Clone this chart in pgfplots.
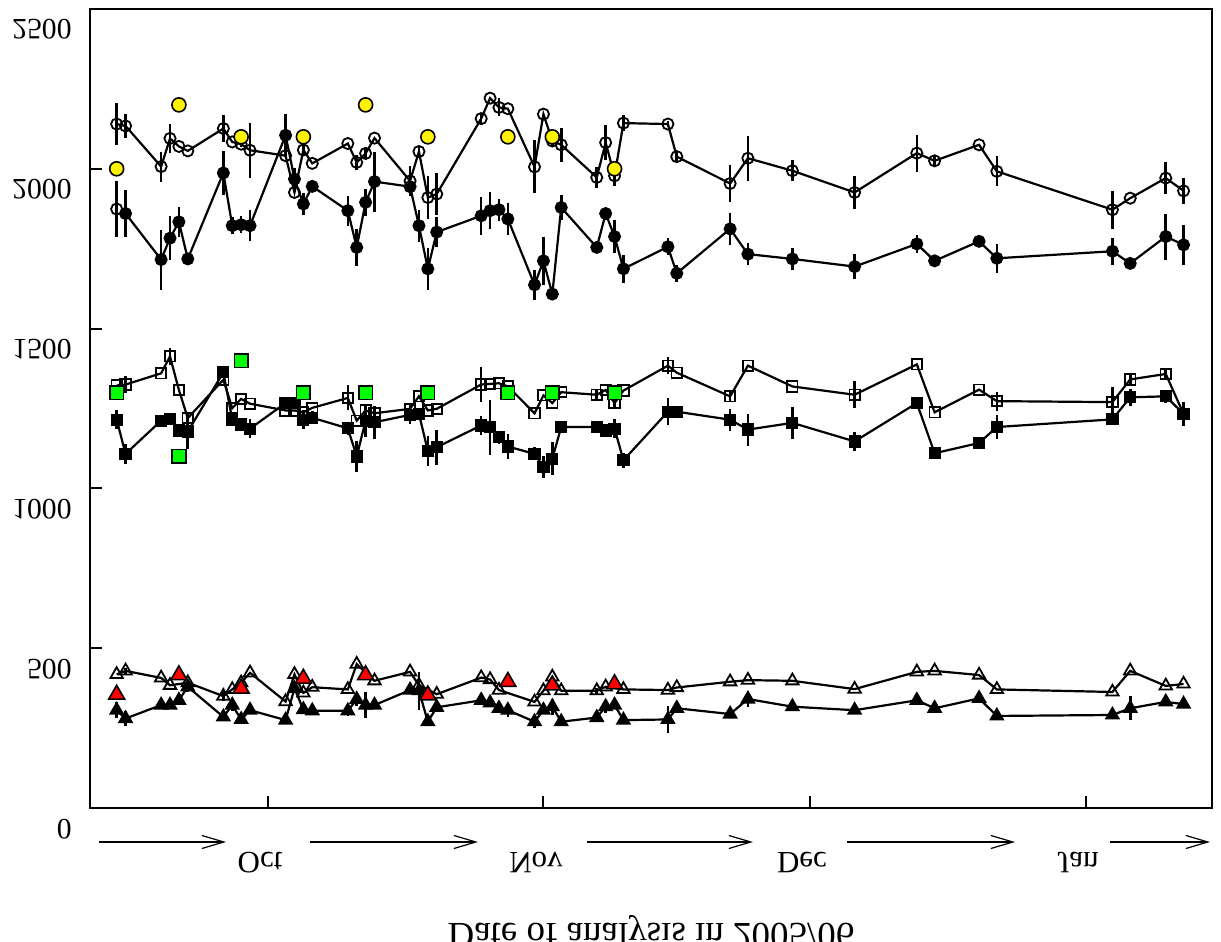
\documentclass[border=0pt]{standalone}
\usepackage{fontspec}
\setmainfont{Liberation Serif}
\usepackage{graphicx}
\usepackage{pgfplots}
\pgfplotsset{compat=1.18}
\usepackage{pgfplotstable}
\usetikzlibrary{arrows.meta}
\newcommand{\flip}[1]{\scalebox{1}[-1]{#1}}

\pgfplotstableread{
x y e
-17 2140 65
-16 2134 39
-12 2007 47
-11 2095 45
-10 2070 0
-9 2056 0
-5 2126 42
-4 2084 0
-3 2077 10
-2 2058 86
2 2041 0
3 1926 0
4 2059 15
5 2017 0
9 2079 0
10 2020 23
11 2048 15
12 2096 0
16 1962 47
17 2054 15
18 1910 68
19 1921 65
24 2157 18
25 2221 0
26 2192 28
27 2188 0
30 2006 83
31 2171 0
32 2087 15
33 2075 54
37 1973 33
38 2082 54
39 1978 33
40 2143 26
45 2140 10
46 2038 15
52 1954 57
54 2033 70
59 1994 33
66 1926 53
73 2049 58
75 2025 15
80 2075 0
82 1992 47
95 1872 60
97 1908 0
101 1971 50
103 1931 40
}\OC

\pgfplotstableread{
x y e
-16 1860 73
-12 1716 94
-11 1783 68
-10 1834 47
-9 1718 18
-5 1987 70
-4 1822 26
-3 1825 26
-2 1822 49
2 2105 68
3 1968 34
4 1890 34
5 1945 15
9 1869 47
10 1754 57
11 1895 42
12 1960 94
16 1944 15
17 1822 50
18 1687 65
19 1802 47
24 1853 60
25 1869 57
26 1872 34
27 1843 51
30 1637 47
31 1712 76
32 1608 0
33 1879 39
37 1754 15
38 1860 0
39 1788 52
40 1687 44
45 1756 26
46 1673 26
52 1812 49
54 1733 34
59 1718 34
66 1694 38
73 1765 28
75 1712 16
80 1773 0
82 1720 46
95 1742 42
97 1704 15
101 1788 72
103 1762 62
}\FC

\pgfplotstableread{
x y e
-17 1874 88
}\OCL

\pgfplotstableread{
x y
-17 2000
-10 2200
-3 2100
4 2100
11 2200
18 2100
27 2100
32 2100
39 2000
}\YC

\pgfplotstableread{
x y e
-17 1322 0
-16 1325 26
-12 1360 0
-11 1413 26
-10 1308 0
-9 1220 0
-5 1340 0
-4 1251 0
-3 1280 0
-2 1265 0
2 1244 0
3 1244 0
4 1238 0
5 1252 0
9 1283 39
10 1212 0
11 1244 0
12 1235 0
16 1249 0
17 1288 0
18 1244 0
19 1249 0
24 1325 55
25 1327 0
26 1329 0
27 1319 0
30 1235 0
31 1291 0
32 1267 0
33 1301 0
37 1293 15
38 1308 0
39 1267 15
40 1306 0
45 1384 27
46 1362 0
52 1288 15
54 1384 0
59 1319 0
66 1293 42
73 1388 0
75 1238 0
80 1309 0
82 1273 30
95 1270 47
97 1341 15
101 1358 15
103 1233 37
}\OS

\pgfplotstableread{
x y e
-17 1215 29
-16 1108 31
-12 1212 0
-11 1218 0
-10 1181 20
-9 1178 55
-5 1363 15
-4 1215 20
-3 1200 20
-2 1187 30
2 1267 20
3 1267 0
4 1215 30
5 1221 20
9 1188 20
10 1100 49
11 1212 50
12 1207 52
16 1230 30
17 1233 20
18 1117 47
19 1129 55
24 1197 30
25 1192 86
26 1160 20
27 1131 40
30 1108 20
31 1067 34
32 1093 52
33 1192 20
37 1192 15
38 1181 20
39 1187 30
40 1088 24
45 1240 42
46 1240 0
52 1215 34
54 1184 50
59 1205 50
66 1147 29
73 1267 15
75 1110 0
80 1142 15
82 1192 39
95 1216 0
97 1285 26
101 1288 20
103 1233 0
}\FS

\pgfplotstableread{
x y
-17 1300
-10 1100
-3 1400
4 1300
11 1300
18 1300
27 1300
32 1300
39 1300
}\GS

\pgfplotstableread{
x y e
-17 418 0
-16 429 10
-12 407 0
-11 384 0
-9 392 0
-5 350 15
-4 371 0
-3 392 0
-2 423 0
2 333 0
3 418 0
4 360 0
5 378 0
9 371 0
10 450 0
12 398 0
16 426 0
17 384 0
19 356 0
24 408 0
25 402 0
26 369 0
30 332 0
31 367 0
32 410 0
33 367 0
37 367 10
38 379 0
40 371 0
45 369 0
46 377 0
52 395 0
54 400 0
59 398 0
66 372 0
73 426 0
75 429 0
80 416 0
82 371 0
95 363 0
97 429 0
101 382 0
103 388 0
}\OT

\pgfplotstableread{
x y e
-17 306 25
-16 280 25
-12 322 0
-11 322 0
-10 337 0
-9 379 15
-5 285 0
-4 322 20
-3 277 0
-2 306 0
2 275 0
3 374 0
4 308 0
5 304 0
9 304 15
10 340 20
11 322 40
12 322 0
16 369 0
17 367 60
18 270 0
19 315 0
24 337 0
25 329 0
26 312 0
27 306 20
30 270 20
31 306 0
32 317 25
33 270 0
37 283 0
38 317 20
39 322 0
40 275 0
45 277 42
46 312 0
52 294 0
54 341 26
59 317 0
66 306 12
73 337 0
75 312 0
80 343 0
82 288 0
95 291 0
97 312 37
101 332 10
103 325 0
}\FT

\pgfplotstableread{
x y
-17 355
-10 416
-3 374
4 405
11 416
18 353
27 395
32 384
39 388
}\RT

\begin{document}
\begin{tikzpicture}
\useasboundingbox (-45pt,-67pt) rectangle (565.5pt,404pt);
\begin{axis}[
  at={(0pt,0pt)}, anchor=south west,
  scale only axis, width=561pt, height=399.5pt,
  xmin=-20, xmax=106.2, ymin=0, ymax=2500,
  xtick={0,31,61,92}, ytick={500,1000,1500,2000},
  xticklabels={}, yticklabels={},
  tick align=inside, tick pos=left, major tick length=6pt,
  axis line style={line width=1pt},
  tick style={line width=1pt, black},
  every axis plot/.append style={line width=1.1pt},
  ebar/.style={error bars/.cd, y dir=both, y explicit, error mark=none,
    error bar style={line width=1.3pt, solid}},
]
% circles
\addplot[black, mark=o, mark size=2.8pt, mark options={fill=white, line width=0.9pt}, ebar]
  table[x=x, y=y, y error=e]{\OC};
\addplot[black, mark=*, mark size=2.8pt, mark options={fill=black, line width=0.9pt}, ebar]
  table[x=x, y=y, y error=e]{\FC};
\addplot[black, only marks, mark=o, mark size=2.8pt, mark options={fill=white, line width=0.9pt}, ebar]
  table[x=x, y=y, y error=e]{\OCL};
\addplot[only marks, mark=*, mark size=3.5pt, mark options={fill=yellow, draw=black, line width=0.8pt}]
  table[x=x, y=y]{\YC};
% squares
\addplot[black, mark=square, mark size=2.6pt, mark options={fill=white, line width=0.9pt}, ebar]
  table[x=x, y=y, y error=e]{\OS};
\addplot[black, mark=square*, mark size=2.6pt, mark options={fill=black, line width=0.9pt}, ebar]
  table[x=x, y=y, y error=e]{\FS};
\addplot[only marks, mark=square*, mark size=3.4pt, mark options={fill=green, draw=black, line width=0.8pt}]
  table[x=x, y=y]{\GS};
% triangles
\addplot[black, mark=triangle, mark size=3.6pt, mark options={fill=white, line width=0.9pt}, ebar]
  table[x=x, y=y, y error=e]{\OT};
\addplot[black, mark=triangle*, mark size=3.6pt, mark options={fill=black, line width=0.9pt}, ebar]
  table[x=x, y=y, y error=e]{\FT};
\addplot[only marks, mark=triangle*, mark size=4.6pt, mark options={fill=red, draw=black, line width=0.8pt}]
  table[x=x, y=y]{\RT};
\end{axis}

% y tick labels (vertically mirrored)
\begin{scope}[every node/.style={anchor=base east, inner sep=0pt, font=\fontsize{14.8}{17}\selectfont}]
\node at (-9pt,394pt) {\flip{2500}};
\node at (-9pt,314pt) {\flip{2000}};
\node at (-9pt,234pt) {\flip{1500}};
\node at (-9pt,154pt) {\flip{1000}};
\node at (-9pt,74pt) {\flip{500}};
\node at (-9pt,-6pt) {\flip{0}};
\end{scope}

% month arrows and labels
\begin{scope}[line width=0.6pt, -{Straight Barb[length=11pt,width=6.5pt]}]
\draw (4.5pt,-17pt) -- (68pt,-17pt);
\draw (110pt,-17pt) -- (194pt,-17pt);
\draw (248.5pt,-17pt) -- (331.5pt,-17pt);
\draw (378.5pt,-17pt) -- (462.5pt,-17pt);
\draw (510pt,-17pt) -- (560pt,-17pt);
\end{scope}
\begin{scope}[every node/.style={anchor=base, inner sep=0pt, font=\fontsize{15.5}{18}\selectfont}]
\node at (85pt,-22.5pt) {\flip{Oct}};
\node at (223pt,-22.5pt) {\flip{Nov}};
\node at (356pt,-22.5pt) {\flip{Dec}};
\node at (494pt,-22.5pt) {\flip{Jan}};
\end{scope}
\node[anchor=base, inner sep=0pt, font=\fontsize{18.5}{22}\selectfont] at (280.5pt,-58pt) {\flip{Date of analysis in 2005/06}};
\end{tikzpicture}
\end{document}
